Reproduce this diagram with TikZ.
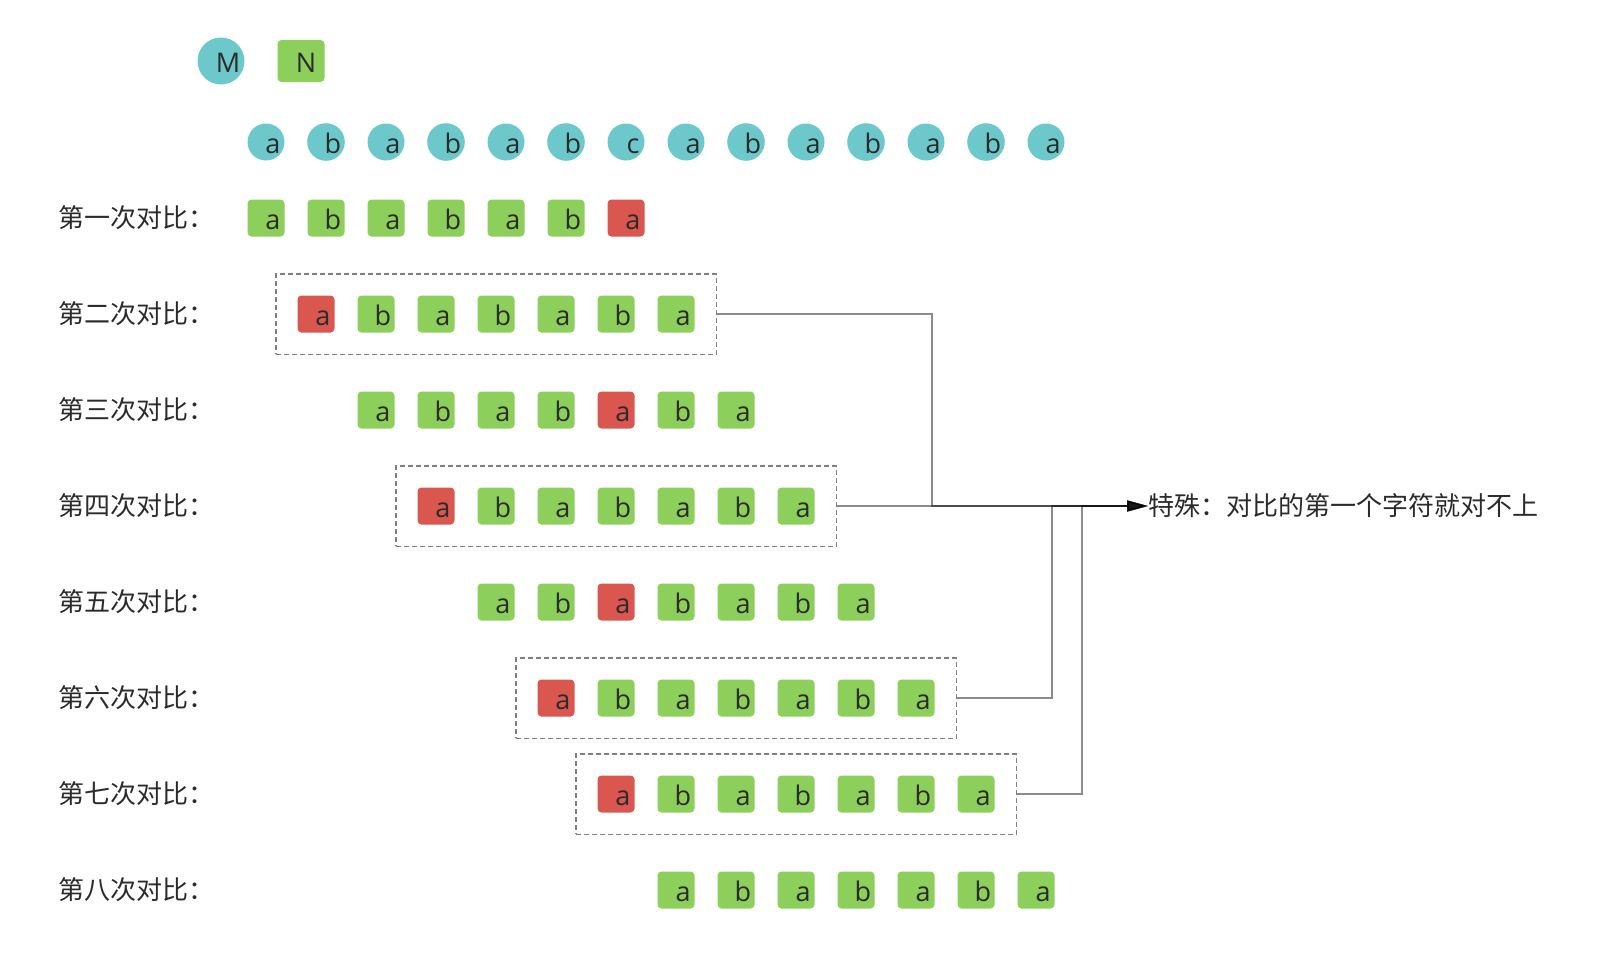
\documentclass[tikz,border=0pt]{standalone}
\usepackage{fontspec}
\setmainfont{Noto Sans CJK SC}
\newfontfamily\letterfont{Open Sans}
\usetikzlibrary{arrows.meta,fit}
\definecolor{tealc}{HTML}{6CC8CB}
\definecolor{greenc}{HTML}{8CCF5A}
\definecolor{redc}{HTML}{D9574F}
\definecolor{ink}{HTML}{2B2B2B}
\tikzset{
  base/.style={inner sep=0pt, text=ink, text height=22pt, text depth=0pt,
    font=\letterfont\fontsize{27pt}{30pt}\selectfont},
  ch/.style={base, rectangle, rounded corners=4pt, minimum width=37pt, minimum height=37pt, fill=greenc},
  hit/.style={ch, fill=redc},
  src/.style={base, circle, minimum size=37pt, fill=tealc},
  rowlabel/.style={anchor=west, inner sep=0pt, text=ink, font=\fontsize{26pt}{30pt}\selectfont},
  dbox/.style={draw=black!50, line width=1.4pt, dash pattern=on 5pt off 3pt, inner sep=21.5pt},
  conn/.style={draw=black, opacity=0.45, line width=1.5pt, -{Triangle[length=21pt,width=11pt]}},
}
\begin{document}
\begin{tikzpicture}[x=1pt, y=-1pt]
\useasboundingbox (0,0) rectangle (1598,962);

% legend: pattern string (circle) and search string (square)
\node[src, minimum size=47pt] (legM) at (221,61) {\kern14pt M};
\node[ch, minimum width=47pt, minimum height=42pt] (legN) at (301,61) {\kern10pt N};

% the text being searched
\foreach \k/\t in {1/a,2/b,3/a,4/b,5/a,6/b,7/c,8/a,9/b,10/a,11/b,12/a,13/b,14/a}
  \node[src] (s\k) at ({266+60*(\k-1)},142) {\kern14pt \t};

% the eight comparisons: row / start x / mismatch position
\foreach \i/\x/\r/\lab in {1/266/7/第一次对比：, 2/316/1/第二次对比：, 3/376/5/第三次对比：,
    4/436/1/第四次对比：, 5/496/3/第五次对比：, 6/556/1/第六次对比：,
    7/616/1/第七次对比：, 8/676/0/第八次对比：}{
  \node[rowlabel] (lab\i) at (58,{218+96*(\i-1)}) {\lab};
  \foreach \k/\t in {1/a,2/b,3/a,4/b,5/a,6/b,7/a}{
    \ifnum\k=\r \def\sty{hit}\else\def\sty{ch}\fi
    \node[\sty] (r\i c\k) at ({\x+60*(\k-1)},{218+96*(\i-1)}) {\kern14pt \t};
  }
}

% rows whose first character already mismatches
\node[dbox, fit=(r2c1)(r2c7)] (box2) {};
\node[dbox, fit=(r4c1)(r4c7)] (box4) {};
\node[dbox, fit=(r6c1)(r6c7)] (box6) {};
\node[dbox, fit=(r7c1)(r7c7)] (box7) {};

\node[rowlabel] (note) at (1148,506) {特殊：对比的第一个字符就对不上};

\coordinate (j2) at (932,506);
\coordinate (j6) at (1052,506);
\coordinate (j7) at (1082,506);

\draw[conn] (box2.east) -| (j2) -- (note.west);
\draw[conn] (box4.east) -- (note.west);
\draw[conn] (box6.east) -| (j6) -- (note.west);
\draw[conn] (box7.east) -| (j7) -- (note.west);
\end{tikzpicture}
\end{document}
